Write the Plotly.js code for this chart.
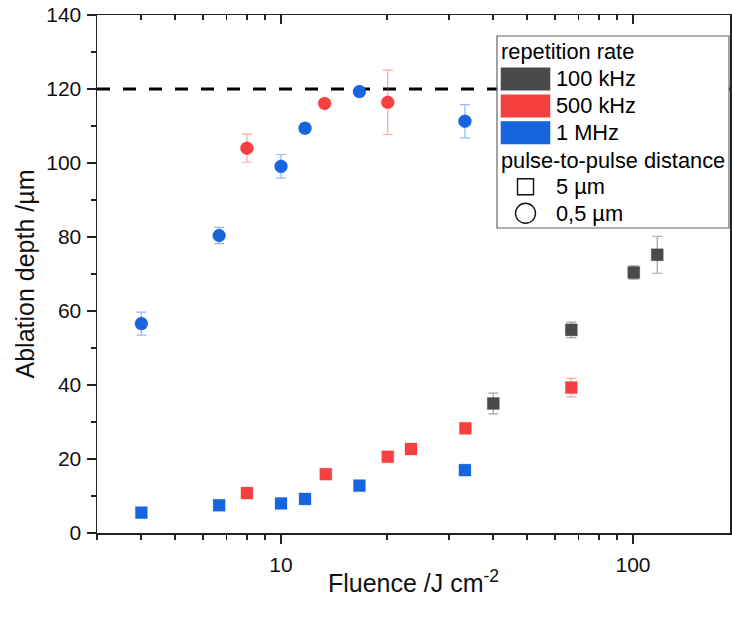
<!DOCTYPE html>
<html>
<head>
<meta charset="utf-8">
<script src="https://cdn.plot.ly/plotly-3.0.1.min.js"></script>
<style>html,body{margin:0;padding:0;background:#fff;}#chart{width:732px;height:618px;}</style>
</head>
<body>
<div id="chart"></div>
<script>
// ---- data: 5 µm pulse-to-pulse distance (squares) ----
const sq100kX = [40.1, 66.8, 100.5, 117.2];
const sq100kY = [35.0, 54.9, 70.4, 75.2];
const sq100kErr = [2.8, 2.1, 1.8, 5.0];

const sq500kX = [8.0, 13.4, 20.1, 23.4, 33.4, 66.8];
const sq500kY = [10.8, 15.9, 20.6, 22.7, 28.3, 39.3];
const sq500kErr = [0, 0, 0, 0, 0, 2.5];

const sq1MX = [4.01, 6.67, 10.0, 11.7, 16.7, 33.3];
const sq1MY = [5.5, 7.5, 8.0, 9.2, 12.8, 17.0];
const sq1MErr = [0, 0, 0, 0, 0, 0];

// ---- data: 0,5 µm pulse-to-pulse distance (circles) ----
const ci500kX = [8.0, 13.3, 20.1];
const ci500kY = [104.0, 116.1, 116.4];
const ci500kErr = [3.8, 0, 8.7];

const ci1MX = [4.01, 6.67, 10.0, 11.7, 16.7, 33.3];
const ci1MY = [56.6, 80.4, 99.1, 109.4, 119.3, 111.3];
const ci1MErr = [3.1, 2.2, 3.2, 1.3, 0, 4.5];

const thresholdDepth = 120;

const legendRates = ['100 kHz', '500 kHz', '1 MHz'];
const legendDistances = ['5 µm', '0,5 µm'];
const legendTitleRate = 'repetition rate';
const legendTitleDist = 'pulse-to-pulse distance';

// ---- styles ----
const C_GRAY = '#4a4a4a', C_RED = '#f5403f', C_BLUE = '#1665de';
const E_GRAY = 'rgba(74,74,74,0.5)', E_RED = 'rgba(245,64,63,0.45)', E_BLUE = 'rgba(22,101,222,0.45)';
const FONT = 'Arial, "Liberation Sans", sans-serif';

function tr(x, y, err, color, ecolor, symbol, size) {
  return {
    type: 'scatter', mode: 'markers', x: x, y: y, showlegend: false,
    marker: {symbol: symbol, size: size, color: color, line: {width: 0.6, color: ecolor}},
    error_y: {type: 'data', array: err, visible: true, color: ecolor, thickness: 1.2, width: 5},
    cliponaxis: false
  };
}

const traces = [
  tr(sq1MX, sq1MY, sq1MErr, C_BLUE, E_BLUE, 'square', 12),
  tr(sq500kX, sq500kY, sq500kErr, C_RED, E_RED, 'square', 12),
  tr(sq100kX, sq100kY, sq100kErr, C_GRAY, E_GRAY, 'square', 12),
  tr(ci1MX, ci1MY, ci1MErr, C_BLUE, E_BLUE, 'circle', 13),
  tr(ci500kX, ci500kY, ci500kErr, C_RED, E_RED, 'circle', 13),
  {type: 'scatter', x: [], y: [], xaxis: 'x2', showlegend: false}
];

// plot area in pixels
const W = 732, H = 618, L = 97, R = 2, T = 15, B = 85;
const pw = W - L - R, ph = H - T - B;
const px = v => (v - L) / pw;
const py = v => (H - B - v) / ph;

const shapes = [
  {type: 'line', xref: 'paper', yref: 'y', x0: 0, x1: 1, y0: thresholdDepth, y1: thresholdDepth,
   line: {color: '#000', width: 3, dash: '13px,13px'}, layer: 'below'},
  {type: 'rect', xref: 'paper', yref: 'paper', x0: px(497), x1: px(729), y0: py(228), y1: py(36),
   fillcolor: '#fff', line: {color: '#666', width: 1.2}, layer: 'above'}
];
const swatchColors = [C_GRAY, C_RED, C_BLUE];
const rowY = [79, 106, 132.7];
const annotations = [];
const ann = (text, x, y) => annotations.push({text: text, xref: 'paper', yref: 'paper', x: px(x), y: py(y),
  xanchor: 'left', yanchor: 'middle', showarrow: false, font: {family: FONT, size: 21.8, color: '#000'}});
ann(legendTitleRate, 499, 52);
legendRates.forEach((t, i) => {
  shapes.push({type: 'rect', xref: 'paper', yref: 'paper', x0: px(500.5), x1: px(550.5),
    y0: py(rowY[i] + 11.8), y1: py(rowY[i] - 11.8), fillcolor: swatchColors[i],
    line: {width: 0.8, color: 'rgba(255,255,255,0.6)'}, layer: 'above'});
  ann(t, 554, rowY[i]);
});
ann(legendTitleDist, 499, 160);
const distY = [186.7, 213.3];
legendDistances.forEach((t, i) => ann(t, 554, distY[i]));
shapes.push({type: 'rect', xref: 'paper', yref: 'paper', x0: px(517.5), x1: px(533.5),
  y0: py(distY[0] + 8), y1: py(distY[0] - 8), fillcolor: 'rgba(0,0,0,0)', line: {color: '#111', width: 1.4}, layer: 'above'});
shapes.push({type: 'circle', xref: 'paper', yref: 'paper', x0: px(515.5), x1: px(535.5),
  y0: py(distY[1] + 10), y1: py(distY[1] - 10), fillcolor: 'rgba(0,0,0,0)', line: {color: '#111', width: 1.4}, layer: 'above'});

const AX = '#222';
const xr = [Math.log10(3), 2.2756];
const layout = {
  width: W, height: H,
  margin: {l: L, r: R, t: T, b: B, pad: 0},
  paper_bgcolor: '#fff', plot_bgcolor: '#fff',
  font: {family: FONT, size: 21, color: '#111'},
  xaxis: {
    type: 'log', range: xr, dtick: 1, exponentformat: 'none',
    ticks: 'outside', ticklen: 9, tickwidth: 1.5, tickcolor: AX, ticklabelstandoff: 3,
    minor: {dtick: 'D1', ticks: 'outside', ticklen: 5, tickwidth: 1.5, tickcolor: AX, showgrid: false},
    showline: true, linecolor: AX, linewidth: 1.5, showgrid: false, zeroline: false,
    tickfont: {family: FONT, size: 21, color: '#111'},
    title: {text: 'Fluence /J cm<sup>-2</sup>', font: {family: FONT, size: 25, color: '#111'}, standoff: 0}
  },
  xaxis2: {
    type: 'log', range: xr, dtick: 1, overlaying: 'x', side: 'top', showticklabels: false,
    ticks: 'inside', ticklen: 9, tickwidth: 1.5, tickcolor: AX,
    minor: {dtick: 'D1', ticks: 'inside', ticklen: 5, tickwidth: 1.5, tickcolor: AX, showgrid: false},
    showline: true, linecolor: AX, linewidth: 1.5, showgrid: false, zeroline: false
  },
  yaxis: {
    range: [0, 140], dtick: 20,
    ticks: 'outside', ticklen: 9, tickwidth: 1.5, tickcolor: AX, ticklabelstandoff: 1,
    minor: {dtick: 10, ticks: 'outside', ticklen: 5, tickwidth: 1.5, tickcolor: AX, showgrid: false},
    showline: true, mirror: true, linecolor: AX, linewidth: 1.5, showgrid: false, zeroline: false,
    tickfont: {family: FONT, size: 21, color: '#111'},
    title: {text: 'Ablation depth /µm', font: {family: FONT, size: 25, color: '#111'}, standoff: 4}
  },
  shapes: shapes,
  annotations: annotations,
  showlegend: false
};

Plotly.newPlot('chart', traces, layout, {displayModeBar: false, staticPlot: true});
</script>
</body>
</html>
